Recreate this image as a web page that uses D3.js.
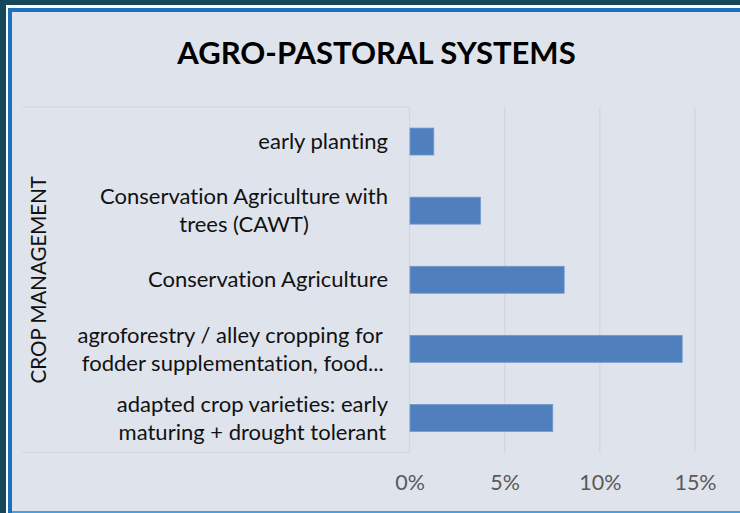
<!DOCTYPE html>
<html>
<head>
<meta charset="utf-8">
<script src="https://cdn.jsdelivr.net/npm/d3@7"></script>
<style>
  html, body { margin: 0; padding: 0; background: #17475a; }
  svg { display: block; }
  text { font-variant-ligatures: none; white-space: pre; }
</style>
</head>
<body>
<div id="chart"></div>
<script>
// Data
const categories = [
  "early planting",
  "Conservation Agriculture with trees (CAWT)",
  "Conservation Agriculture",
  "agroforestry / alley cropping for fodder supplementation, food...",
  "adapted crop varieties: early maturing + drought tolerant"
];
// how the labels wrap in the original
const labelLines = [
  ["early planting"],
  ["Conservation Agriculture with", "trees (CAWT)"],
  ["Conservation Agriculture"],
  ["agroforestry / alley cropping for ", "fodder supplementation, food..."],
  ["adapted crop varieties: early", "maturing + drought tolerant"]
];
const values = [0.0125, 0.037, 0.081, 0.143, 0.075];
const tickValues = [0, 0.05, 0.10, 0.15];
const chartTitle = "AGRO-PASTORAL SYSTEMS";
const groupTitle = "CROP MANAGEMENT";

const width = 740;
const height = 513;
const font = "Lato, 'Open Sans', sans-serif";
const plot = { left: 409.5, right: 695, top: 107, bottom: 452.5 };

const svg = d3.select("#chart").append("svg")
  .attr("width", width)
  .attr("height", height);

// Frame: dark outer, thin white line, blue edge, light panel
svg.append("rect").attr("width", width).attr("height", height).attr("fill", "#17475a");
svg.append("rect").attr("x", 6).attr("y", 5).attr("width", width - 6).attr("height", height - 5).attr("fill", "#ffffff");
svg.append("rect").attr("x", 8).attr("y", 8).attr("width", width - 8).attr("height", height - 8).attr("fill", "#1b70c0");
svg.append("rect").attr("x", 12).attr("y", 12).attr("width", width - 12).attr("height", height - 12).attr("fill", "#4aa0e0");
svg.append("rect").attr("x", 12).attr("y", 12).attr("width", width - 12).attr("height", height - 14).attr("fill", "#dfe4ec");

// Scales
const x = d3.scaleLinear().domain([0, 0.15]).range([plot.left, plot.right]);
const y = d3.scaleBand().domain(categories).range([plot.top, plot.bottom])
  .paddingInner(0.61).paddingOuter(0.305);

const gridColor = "#d2d6dc";

// Gridlines
svg.append("g")
  .selectAll("line")
  .data(tickValues.slice(1))
  .enter().append("line")
  .attr("x1", d => x(d)).attr("x2", d => x(d))
  .attr("y1", plot.top).attr("y2", plot.bottom)
  .attr("stroke", gridColor).attr("stroke-width", 1.2);

// Category axis box (top, bottom, axis line)
const box = svg.append("g").attr("stroke", gridColor).attr("stroke-width", 1.2);
box.append("line").attr("x1", 22).attr("x2", plot.left).attr("y1", plot.top).attr("y2", plot.top);
box.append("line").attr("x1", 22).attr("x2", plot.left).attr("y1", plot.bottom).attr("y2", plot.bottom);
box.append("line").attr("x1", plot.left).attr("x2", plot.left).attr("y1", plot.top).attr("y2", plot.bottom);

// Bars
svg.append("g")
  .selectAll("rect")
  .data(categories)
  .enter().append("rect")
  .attr("x", x(0) + 0.5)
  .attr("y", d => y(d))
  .attr("width", (d, i) => x(values[i]) - x(0))
  .attr("height", y.bandwidth())
  .attr("fill", "#4f80bd")
  .attr("stroke", "#7099cf")
  .attr("stroke-width", 0.8);

// X axis tick labels
const xAxis = d3.axisBottom(x).tickValues(tickValues).tickFormat(d3.format(".0%")).tickSize(0).tickPadding(0);
const xg = svg.append("g").attr("transform", `translate(0, 490)`).call(xAxis);
xg.select(".domain").remove();
xg.selectAll("text")
  .attr("dy", 0)
  .attr("font-family", font)
  .attr("font-size", 21.5)
  .attr("fill", "#595959");

// Category labels: lines centred, block right-aligned
const labelSize = 22;
const lineHeight = 28;
const labelRight = 388;
const labels = svg.append("g")
  .attr("font-family", font)
  .attr("font-size", labelSize)
  .attr("fill", "#111");

labelLines.forEach((lines, i) => {
  const cy = y(categories[i]) + y.bandwidth() / 2;
  const g = labels.append("g");
  const texts = lines.map((line, j) =>
    g.append("text")
      .attr("y", cy + (j - (lines.length - 1) / 2) * lineHeight)
      .attr("dy", "0.35em")
      .attr("text-anchor", "middle")
      .text(line));
  const maxW = d3.max(texts, t => t.node().getComputedTextLength());
  texts.forEach(t => t.attr("x", labelRight - maxW / 2));
});

// Group title (rotated)
svg.append("text")
  .attr("transform", `translate(39, ${(plot.top + plot.bottom) / 2}) rotate(-90)`)
  .attr("text-anchor", "middle")
  .attr("dy", "0.35em")
  .attr("font-family", font)
  .attr("font-size", 20.5)
  .attr("fill", "#111")
  .text(groupTitle);

// Chart title
svg.append("text")
  .attr("x", 376.5)
  .attr("y", 64)
  .attr("text-anchor", "middle")
  .attr("font-family", font)
  .attr("font-weight", "bold")
  .attr("font-size", 31)
  .attr("fill", "#000")
  .text(chartTitle);
</script>
</body>
</html>
